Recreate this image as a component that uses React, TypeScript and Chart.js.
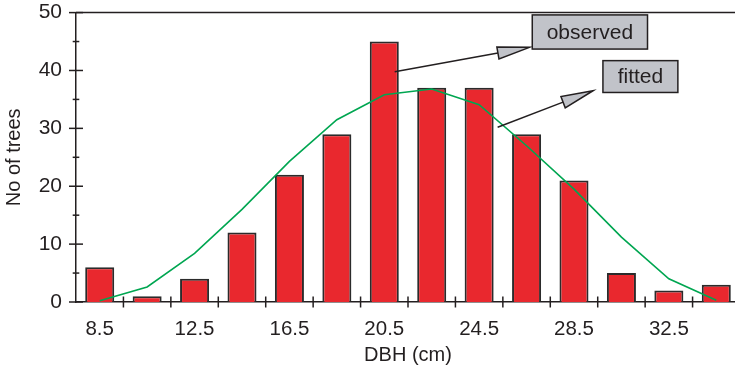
import React, { useEffect, useRef } from 'react';
import { Chart, registerables } from 'chart.js';

Chart.register(...registerables);

// ---- data ----
const categories = ['8.5', '10.5', '12.5', '14.5', '16.5', '18.5', '20.5', '22.5', '24.5', '26.5', '28.5', '30.5', '32.5', '34.5'];
const observed = [6, 1, 4, 12, 22, 29, 45, 37, 37, 29, 21, 5, 2, 3];
const fitted = [0.2, 2.6, 8.4, 16, 24.3, 31.5, 35.8, 36.8, 34.1, 27, 19.5, 11.2, 4.0, 0.3];
const labeledTicks = ['8.5', '12.5', '16.5', '20.5', '24.5', '28.5', '32.5'];
const yMajorTicks = [0, 10, 20, 30, 40, 50];
const yMinorTicks = [5, 15, 25, 35, 45];
const calloutTexts = ['observed', 'fitted'];

// ---- callout anchors in data space (category index, value) ----
const callouts = [
  { text: calloutTexts[0], box: [9.12, 11.55, 49.6, 43.7], from: [6.22, 39.8], to: [9.06, 44.0] },
  { text: calloutTexts[1], box: [10.61, 12.19, 41.7, 36.2], from: [8.39, 30.2], to: [10.4, 36.5] },
];

const INK = '#231f20';
const FONT = "'Liberation Sans', Arial, Helvetica, sans-serif";

const decorPlugin = {
  id: 'decor',
  afterDatasetsDraw(chart: any) {
    const { ctx, chartArea, scales } = chart;
    const x = scales.x;
    const y = scales.y;
    ctx.save();
    ctx.strokeStyle = INK;
    ctx.lineWidth = 1.5;
    // top frame line
    ctx.beginPath();
    ctx.moveTo(chartArea.left, chartArea.top);
    ctx.lineTo(chartArea.right, chartArea.top);
    ctx.stroke();
    // y ticks (crossing)
    const drawYTick = (v: number, half: number) => {
      const py = y.getPixelForValue(v);
      ctx.beginPath();
      ctx.moveTo(chartArea.left - half, py);
      ctx.lineTo(chartArea.left + half, py);
      ctx.stroke();
    };
    yMajorTicks.forEach((v) => drawYTick(v, 7));
    yMinorTicks.forEach((v) => drawYTick(v, 3.3));
    // x ticks at category boundaries (crossing)
    for (let i = 1; i < categories.length; i++) {
      const px = (x.getPixelForValue(i - 1) + x.getPixelForValue(i)) / 2;
      ctx.beginPath();
      ctx.moveTo(px, chartArea.bottom - 5.5);
      ctx.lineTo(px, chartArea.bottom + 5.5);
      ctx.stroke();
    }
    // callouts
    callouts.forEach((c) => {
      const x0 = x.getPixelForValue(c.box[0]);
      const x1 = x.getPixelForValue(c.box[1]);
      const y0 = y.getPixelForValue(c.box[2]);
      const y1 = y.getPixelForValue(c.box[3]);
      ctx.fillStyle = '#c1c3c9';
      ctx.fillRect(x0, y0, x1 - x0, y1 - y0);
      ctx.lineWidth = 1.5;
      ctx.strokeStyle = INK;
      ctx.strokeRect(x0, y0, x1 - x0, y1 - y0);
      ctx.fillStyle = INK;
      ctx.font = `21px ${FONT}`;
      ctx.textAlign = 'center';
      ctx.textBaseline = 'middle';
      ctx.fillText(c.text, (x0 + x1) / 2, (y0 + y1) / 2 + 1);

      // arrow
      const sx = x.getPixelForValue(c.from[0]);
      const sy = y.getPixelForValue(c.from[1]);
      const tx = x.getPixelForValue(c.to[0]);
      const ty = y.getPixelForValue(c.to[1]);
      const dx = tx - sx;
      const dy = ty - sy;
      const len = Math.hypot(dx, dy);
      const ux = dx / len;
      const uy = dy / len;
      const headLen = 32;
      const headHalf = 6;
      const bx = tx - ux * headLen;
      const by = ty - uy * headLen;
      ctx.beginPath();
      ctx.moveTo(sx, sy);
      ctx.lineTo(bx, by);
      ctx.lineWidth = 1.5;
      ctx.stroke();
      ctx.beginPath();
      ctx.moveTo(tx, ty);
      ctx.lineTo(bx - uy * headHalf, by + ux * headHalf);
      ctx.lineTo(bx + uy * headHalf, by - ux * headHalf);
      ctx.closePath();
      ctx.fillStyle = '#c1c3c9';
      ctx.fill();
      ctx.stroke();
    });
    ctx.restore();
  },
};

export default function App() {
  const canvasRef = useRef<HTMLCanvasElement | null>(null);

  useEffect(() => {
    if (!canvasRef.current) return;
    Chart.defaults.font.family = FONT;
    Chart.defaults.color = INK;
    const chart = new Chart(canvasRef.current, {
      type: 'bar',
      data: {
        labels: categories,
        datasets: [
          {
            type: 'line',
            label: 'fitted',
            data: fitted,
            borderColor: '#00a651',
            borderWidth: 1.6,
            pointRadius: 0,
            tension: 0,
            fill: false,
            order: 0,
          } as any,
          {
            type: 'bar',
            label: 'observed',
            data: observed,
            backgroundColor: '#e9282e',
            borderColor: '#2b2b2b',
            borderWidth: 2,
            barPercentage: 0.612,
            categoryPercentage: 1,
            order: 1,
          },
        ],
      },
      options: {
        animation: false,
        responsive: false,
        layout: { padding: { top: 0, right: 5, bottom: 0, left: 0 } },
        plugins: { legend: { display: false }, tooltip: { enabled: false } },
        scales: {
          x: {
            offset: true,
            grid: { display: false, drawTicks: true, tickLength: 15 },
            border: { display: true, color: INK, width: 1.5 },
            ticks: {
              autoSkip: false,
              maxRotation: 0,
              padding: 0,
              color: INK,
              font: { size: 20.5 },
              callback: (_v: any, i: number) => (labeledTicks.includes(categories[i]) ? categories[i] : ''),
            },
            title: { display: true, text: 'DBH (cm)', color: INK, font: { size: 20 }, padding: { top: 0, bottom: 5 } },
            afterFit: (s: any) => {
              s.height = 70;
            },
          },
          y: {
            min: 0,
            max: 50,
            grid: { display: false, drawTicks: true, tickLength: 14 },
            border: { display: true, color: INK, width: 1.5 },
            ticks: { stepSize: 10, padding: 0, color: INK, font: { size: 21 } },
            title: { display: true, text: 'No of trees', color: INK, font: { size: 20 }, padding: { top: 2.5, bottom: 0 } },
            afterFit: (s: any) => {
              s.width = 76;
            },
          },
        },
      },
      plugins: [decorPlugin],
    });
    return () => chart.destroy();
  }, []);

  return (
    <div style={{ position: 'absolute', left: 0, top: 0, width: 735, height: 372, overflow: 'hidden', background: '#fff' }}>
      <canvas ref={canvasRef} width={745} height={372} style={{ display: 'block' }} />
    </div>
  );
}
